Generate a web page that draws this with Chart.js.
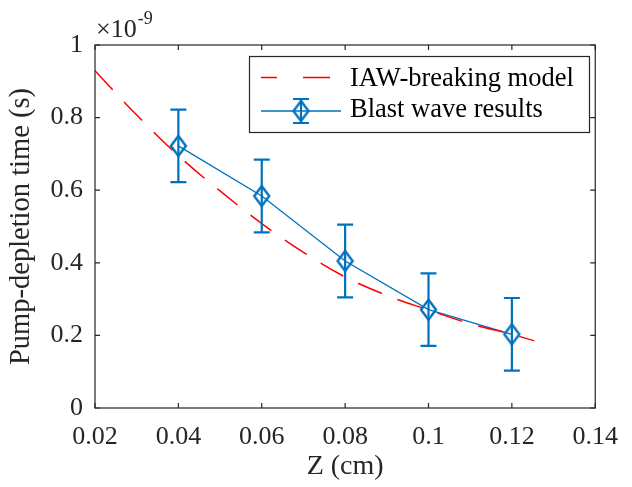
<!DOCTYPE html>
<html>
<head>
<meta charset="utf-8">
<script src="https://cdn.jsdelivr.net/npm/chart.js@4"></script>
<style>
  html, body { margin: 0; padding: 0; background: #fff; }
  #wrap { width: 632px; height: 487px; }
</style>
</head>
<body>
<div id="wrap"><canvas id="chart" width="632" height="487"></canvas></div>
<script>
// values in units of 1e-9 s
const zModel = [0.02, 0.03, 0.04, 0.05, 0.06, 0.07, 0.08, 0.09, 0.10, 0.11, 0.12, 0.1254];
const tModel = [0.929, 0.807, 0.695, 0.598, 0.508, 0.429, 0.361, 0.31, 0.27, 0.232, 0.203, 0.185];

const zBlast = [0.04, 0.06, 0.08, 0.10, 0.12];
const tBlast = [0.722, 0.584, 0.405, 0.271, 0.203];
const errBlast = [0.1, 0.1, 0.1, 0.1, 0.1];

const xTicks = [0.02, 0.04, 0.06, 0.08, 0.1, 0.12, 0.14];
const yTicks = [0, 0.2, 0.4, 0.6, 0.8, 1];

const FONT = '"Liberation Serif", "Times New Roman", serif';
const AX = '#262626';
const BLUE = '#0072BD';
const RED = '#ff0000';

// diamond marker
function diamond(w, h, lw) {
  const c = document.createElement('canvas');
  c.width = w + lw * 2; c.height = h + lw * 2;
  const g = c.getContext('2d');
  const cx = c.width / 2, cy = c.height / 2;
  g.strokeStyle = BLUE; g.lineWidth = lw;
  g.beginPath();
  g.moveTo(cx, cy - h / 2); g.lineTo(cx + w / 2, cy);
  g.lineTo(cx, cy + h / 2); g.lineTo(cx - w / 2, cy);
  g.closePath(); g.stroke();
  return c;
}
const marker = diamond(15, 20, 2.4);

function errCap(ctx, x, y1, y2) {
  ctx.beginPath();
  ctx.moveTo(x, y1); ctx.lineTo(x, y2);
  ctx.moveTo(x - 8, y1); ctx.lineTo(x + 8, y1);
  ctx.moveTo(x - 8, y2); ctx.lineTo(x + 8, y2);
  ctx.stroke();
}

const errorBars = {
  id: 'errorBars',
  afterDatasetsDraw(chart) {
    const {ctx, scales: {x, y}} = chart;
    ctx.save();
    ctx.strokeStyle = BLUE; ctx.lineWidth = 2.2;
    zBlast.forEach((z, i) => {
      const px = x.getPixelForValue(z);
      errCap(ctx, px, y.getPixelForValue(tBlast[i] + errBlast[i]), y.getPixelForValue(tBlast[i] - errBlast[i]));
    });
    ctx.restore();
  }
};

const frame = {
  id: 'frame',
  afterDraw(chart) {
    const {ctx, chartArea: a, scales: {x, y}} = chart;
    ctx.save();
    ctx.strokeStyle = AX; ctx.lineWidth = 1.2;
    ctx.strokeRect(a.left, a.top, a.right - a.left, a.bottom - a.top);
    const tl = 5;
    ctx.beginPath();
    xTicks.forEach(v => {
      const px = x.getPixelForValue(v);
      ctx.moveTo(px, a.bottom); ctx.lineTo(px, a.bottom - tl);
      ctx.moveTo(px, a.top); ctx.lineTo(px, a.top + tl);
    });
    yTicks.forEach(v => {
      const py = y.getPixelForValue(v);
      ctx.moveTo(a.left, py); ctx.lineTo(a.left + tl, py);
      ctx.moveTo(a.right, py); ctx.lineTo(a.right - tl, py);
    });
    ctx.stroke();

    // exponent label
    ctx.fillStyle = AX;
    ctx.textBaseline = 'alphabetic';
    ctx.textAlign = 'left';
    ctx.font = '26px ' + FONT;
    ctx.fillText('\u00d710', a.left + 1, 37);
    const w = ctx.measureText('\u00d710').width;
    ctx.font = '18px ' + FONT;
    ctx.fillText('-9', a.left + 2 + w, 24);

    // legend
    const L = {x: 249.5, y: 56.5, w: 340, h: 76};
    ctx.fillStyle = '#fff';
    ctx.fillRect(L.x, L.y, L.w, L.h);
    ctx.strokeStyle = AX; ctx.lineWidth = 1.2;
    ctx.strokeRect(L.x, L.y, L.w, L.h);

    ctx.strokeStyle = RED; ctx.lineWidth = 1.5;
    ctx.beginPath();
    ctx.moveTo(261, 77.5); ctx.lineTo(277, 77.5);
    ctx.moveTo(303, 77.5); ctx.lineTo(330, 77.5);
    ctx.stroke();

    ctx.strokeStyle = BLUE; ctx.lineWidth = 1.3;
    ctx.beginPath();
    ctx.moveTo(261, 111); ctx.lineTo(341, 111);
    ctx.stroke();
    ctx.lineWidth = 2.2;
    errCap(ctx, 301, 99, 123);
    ctx.drawImage(marker, 301 - marker.width / 2, 111 - marker.height / 2);

    ctx.fillStyle = '#000';
    ctx.font = '26.5px ' + FONT;
    ctx.textBaseline = 'alphabetic';
    ctx.fillText('IAW-breaking model', 350, 86);
    ctx.fillText('Blast wave results', 350, 117);
    ctx.restore();
  }
};

new Chart(document.getElementById('chart'), {
  type: 'line',
  data: {
    datasets: [
      {
        label: 'IAW-breaking model',
        data: zModel.map((z, i) => ({x: z, y: tModel[i]})),
        borderColor: RED,
        borderWidth: 1.5,
        borderDash: [26, 16.5],
        pointRadius: 0,
        cubicInterpolationMode: 'monotone',
        fill: false
      },
      {
        label: 'Blast wave results',
        data: zBlast.map((z, i) => ({x: z, y: tBlast[i]})),
        borderColor: BLUE,
        borderWidth: 1.3,
        pointStyle: marker,
        pointRadius: 10,
        tension: 0,
        fill: false
      }
    ]
  },
  plugins: [errorBars, frame],
  options: {
    responsive: false,
    animation: false,
    layout: {padding: {top: 45, right: 35, left: 0, bottom: 0}},
    plugins: {legend: {display: false}, tooltip: {enabled: false}},
    scales: {
      x: {
        type: 'linear',
        min: 0.02, max: 0.14,
        afterBuildTicks: s => { s.ticks = xTicks.map(v => ({value: v})); },
        afterFit: s => { s.height = 79; },
        grid: {display: false, drawTicks: false},
        border: {display: false},
        ticks: {
          color: AX, padding: 14,
          font: {family: FONT, size: 26},
          callback: v => String(parseFloat(v.toFixed(2)))
        },
        title: {display: true, text: 'Z (cm)', color: AX, padding: {top: 2}, font: {family: FONT, size: 28}}
      },
      y: {
        type: 'linear',
        min: 0, max: 1,
        afterBuildTicks: s => { s.ticks = yTicks.map(v => ({value: v})); },
        afterFit: s => { s.width = 95; },
        grid: {display: false, drawTicks: false},
        border: {display: false},
        ticks: {
          color: AX, padding: 12,
          font: {family: FONT, size: 26},
          callback: v => String(parseFloat(v.toFixed(1)))
        },
        title: {display: true, text: 'Pump-depletion time (s)', color: AX, padding: {bottom: 0}, font: {family: FONT, size: 28.5}}
      }
    }
  }
});
</script>
</body>
</html>
